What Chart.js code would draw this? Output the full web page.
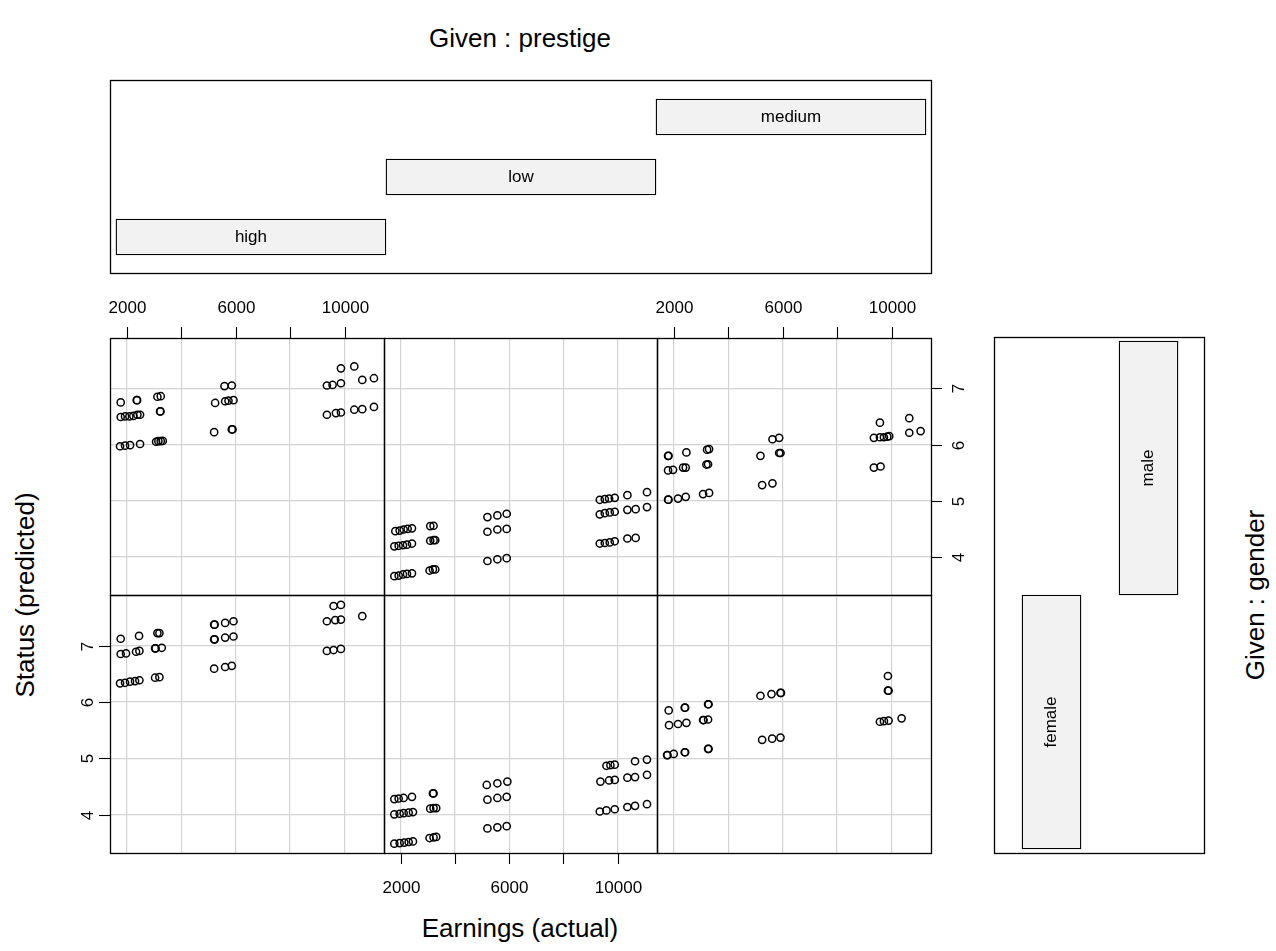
<!DOCTYPE html>
<html>
<head>
<meta charset="utf-8">
<script src="https://cdn.jsdelivr.net/npm/chart.js@4.4.0/dist/chart.umd.min.js"></script>
<style>
  body { margin: 0; background: #fff; }
  #page { position: relative; width: 1276px; height: 951px; overflow: hidden;
          font-family: "Liberation Sans", Arial, Helvetica, sans-serif; }
  #page canvas { position: absolute; }
  .title { position: absolute; font-size: 26px; line-height: 1; color: #000; white-space: nowrap; }
</style>
</head>
<body>
<div id="page">
  <div class="title" style="left:520px; top:38px; transform:translate(-50%,-50%)">Given : prestige</div>
  <div class="title" style="left:520px; top:928px; transform:translate(-50%,-50%)">Earnings (actual)</div>
  <div class="title" style="left:25px; top:595px; transform:translate(-50%,-50%) rotate(-90deg)">Status (predicted)</div>
  <div class="title" style="left:1255px; top:595px; transform:translate(-50%,-50%) rotate(-90deg)">Given : gender</div>
</div>
<script>
// axis ticks
const earningsTicks = [2000, 4000, 6000, 8000, 10000];
const earningsTickLabels = ['2000', '', '6000', '', '10000'];
const statusTicks = [4, 5, 6, 7];

// conditioning levels
const prestigeLevels = ['high', 'low', 'medium'];
const prestigeIntervals = [[0.5, 1.5], [1.5, 2.5], [2.5, 3.5]];
const genderLevels = ['female', 'male'];
const genderIntervals = [[0.5, 1.5], [1.5, 2.5]];

// male, prestige high
const earnMaleHigh = [1779, 2368, 2382, 3127, 3250, 1779, 1939, 2098, 2245, 2392, 2490, 3225, 3240,
  1755, 1939, 2123, 2490, 3078, 3164, 3250, 3324, 5591, 5860, 5248, 5615, 5738, 5922, 5211, 5860, 5885,
  9868, 10358, 9353, 9561, 9868, 10652, 11081, 9353, 9684, 9868, 10358, 10652, 11081];
const statusMaleHigh = [6.75, 6.79, 6.79, 6.85, 6.86, 6.49, 6.50, 6.50, 6.51, 6.53, 6.53, 6.59, 6.59,
  5.97, 5.98, 5.99, 6.01, 6.05, 6.06, 6.06, 6.065, 7.04, 7.05, 6.74, 6.77, 6.78, 6.79, 6.22, 6.27, 6.27,
  7.355, 7.39, 7.05, 7.06, 7.09, 7.15, 7.18, 6.53, 6.56, 6.57, 6.62, 6.63, 6.67];

// male, prestige low
const earnMaleLow = [1804, 1963, 2110, 2257, 2417, 3091, 3213, 1767, 1926, 2086, 2233, 2417, 3091, 3213, 3275,
  1767, 1926, 2086, 2233, 2417, 3066, 3189, 3275, 5199, 5566, 5909, 5199, 5566, 5909, 5199, 5566, 5909,
  9341, 9525, 9684, 9892, 10358, 11081, 9341, 9525, 9708, 9892, 10358, 10664, 11081,
  9341, 9525, 9708, 9892, 10358, 10664];
const statusMaleLow = [4.46, 4.47, 4.49, 4.50, 4.51, 4.55, 4.556, 4.19, 4.20, 4.21, 4.22, 4.24, 4.29, 4.30, 4.30,
  3.66, 3.67, 3.69, 3.70, 3.71, 3.76, 3.78, 3.78, 4.71, 4.74, 4.77, 4.45, 4.49, 4.50, 3.93, 3.96, 3.98,
  5.018, 5.03, 5.041, 5.053, 5.10, 5.154, 4.76, 4.78, 4.793, 4.805, 4.84, 4.852, 4.888,
  4.24, 4.25, 4.26, 4.28, 4.33, 4.34];

// male, prestige medium
const earnMaleMedium = [1792, 1810, 2466, 3225, 3299, 1792, 1975, 2343, 2441, 3201, 3262,
  1792, 1808, 2159, 2441, 3078, 3299, 5627, 5873, 5186, 5873, 5922, 5248, 5627,
  9574, 10652, 9353, 9574, 9721, 9843, 9917, 10652, 11069, 9353, 9598];
const statusMaleMedium = [5.80, 5.80, 5.86, 5.91, 5.92, 5.54, 5.55, 5.59, 5.59, 5.645, 5.65,
  5.02, 5.02, 5.04, 5.07, 5.12, 5.14, 6.095, 6.12, 5.80, 5.85, 5.85, 5.28, 5.31,
  6.39, 6.47, 6.12, 6.13, 6.13, 6.14, 6.15, 6.21, 6.24, 5.59, 5.61];

// female, prestige high
const earnFemaleHigh = [1779, 2453, 3127, 3201, 1779, 1975, 2343, 2466, 3042, 3060, 3287,
  1755, 1939, 2123, 2306, 2466, 3042, 3201, 5211, 5230, 5615, 5922, 5211, 5230, 5615, 5922, 5211, 5615, 5860,
  9598, 9868, 9353, 9659, 9868, 10652, 9353, 9598, 9868];
const statusFemaleHigh = [7.12, 7.17, 7.22, 7.22, 6.85, 6.86, 6.89, 6.905, 6.95, 6.95, 6.96,
  6.33, 6.34, 6.36, 6.37, 6.385, 6.43, 6.44, 7.37, 7.37, 7.40, 7.43, 7.11, 7.11, 7.14, 7.16, 6.59, 6.62, 6.64,
  7.70, 7.72, 7.43, 7.45, 7.46, 7.52, 6.905, 6.92, 6.94];

// female, prestige low
const earnFemaleLow = [1767, 1926, 2110, 2417, 3189, 3213, 1767, 1963, 2110, 2294, 2453, 3091, 3213, 3311,
  1767, 1963, 2135, 2294, 2453, 3066, 3213, 3311, 5174, 5566, 5934, 5199, 5566, 5909, 5199, 5566, 5909,
  9586, 9733, 9892, 10640, 11081, 9365, 9684, 9892, 10358, 10640, 11081, 9341, 9586, 9892, 10358, 10640, 11081];
const statusFemaleLow = [4.28, 4.29, 4.30, 4.32, 4.38, 4.38, 4.01, 4.02, 4.03, 4.04, 4.05, 4.11, 4.12, 4.12,
  3.49, 3.50, 3.51, 3.52, 3.53, 3.59, 3.60, 3.61, 4.53, 4.56, 4.59, 4.27, 4.30, 4.32, 3.76, 3.78, 3.80,
  4.87, 4.88, 4.89, 4.95, 4.98, 4.59, 4.61, 4.62, 4.66, 4.67, 4.71, 4.06, 4.08, 4.10, 4.14, 4.16, 4.19];

// female, prestige medium
const earnFemaleMedium = [1816, 2404, 2420, 3262, 3280, 1828, 2159, 2466, 3078, 3095, 3262,
  1755, 1770, 2000, 2404, 2420, 3262, 3280, 5186, 5591, 5922, 5940, 5248, 5615, 5922,
  9868, 9868, 9890, 9574, 9721, 9892, 10370];
const statusFemaleMedium = [5.85, 5.90, 5.90, 5.96, 5.96, 5.59, 5.61, 5.63, 5.68, 5.68, 5.69,
  5.06, 5.06, 5.08, 5.11, 5.11, 5.17, 5.17, 6.11, 6.14, 6.16, 6.16, 5.33, 5.35, 5.37,
  6.46, 6.20, 6.20, 5.65, 5.66, 5.67, 5.71];

// panel grid on the page
const colEdges = [110, 384, 657, 931];
const rowEdges = [338, 595, 853];
const earnMin = 1386, earnMax = 11450;
const statusMin = 3.325, statusMax = 7.895;
const M = 50; // room around each panel for ticks
const tickFont = '17px "Liberation Sans", Arial, Helvetica, sans-serif';
const page = document.getElementById('page');

function addCanvas(left, top, w, h) {
  const c = document.createElement('canvas');
  c.width = w + 2 * M;
  c.height = h + 2 * M;
  c.style.left = (left - M) + 'px';
  c.style.top = (top - M) + 'px';
  page.appendChild(c);
  return c;
}

// frame + R style axis ticks drawn from the chart scales
const panelFrame = {
  id: 'panelFrame',
  afterDraw(chart, args, opts) {
    const { ctx, chartArea: a } = chart;
    const xs = chart.scales.x, ys = chart.scales.y;
    ctx.save();
    ctx.strokeStyle = '#000';
    ctx.fillStyle = '#000';
    ctx.lineWidth = 1.3;
    ctx.strokeRect(a.left + 0.5, a.top + 0.5, a.right - a.left, a.bottom - a.top);
    ctx.lineWidth = 1.1;
    ctx.font = tickFont;
    if (opts.xSide) {
      const top = opts.xSide === 'top';
      const edge = top ? a.top : a.bottom;
      const dir = top ? -1 : 1;
      ctx.textAlign = 'center';
      ctx.textBaseline = 'alphabetic';
      earningsTicks.forEach((v, i) => {
        const px = Math.round(xs.getPixelForValue(v)) + 0.5;
        ctx.beginPath();
        ctx.moveTo(px, edge);
        ctx.lineTo(px, edge + dir * 11);
        ctx.stroke();
        if (earningsTickLabels[i]) ctx.fillText(earningsTickLabels[i], px, top ? edge - 25 : edge + 40);
      });
    }
    if (opts.ySide) {
      const left = opts.ySide === 'left';
      const edge = left ? a.left : a.right;
      const dir = left ? -1 : 1;
      statusTicks.forEach(v => {
        const py = Math.round(ys.getPixelForValue(v)) + 0.5;
        ctx.beginPath();
        ctx.moveTo(edge, py);
        ctx.lineTo(edge + dir * 11, py);
        ctx.stroke();
        ctx.save();
        ctx.translate(edge + dir * (left ? 23 : 27) + 6, py);
        ctx.rotate(-Math.PI / 2);
        ctx.textAlign = 'center';
        ctx.textBaseline = 'alphabetic';
        ctx.fillText(String(v), 0, 0);
        ctx.restore();
      });
    }
    ctx.restore();
  }
};

// level names inside the given bars
const barText = {
  id: 'barText',
  afterDatasetsDraw(chart, args, opts) {
    const { ctx } = chart;
    chart.getDatasetMeta(0).data.forEach((bar, i) => {
      const c = bar.getCenterPoint();
      ctx.save();
      ctx.translate(c.x, c.y);
      if (opts.vertical) ctx.rotate(-Math.PI / 2);
      ctx.font = tickFont;
      ctx.fillStyle = '#000';
      ctx.textAlign = 'center';
      ctx.textBaseline = 'middle';
      ctx.fillText(opts.names[i], 0, 0);
      ctx.restore();
    });
  }
};

function gridScale(min, max, ticks, horizontal) {
  return {
    type: 'linear', min, max,
    grid: { color: '#d3d3d3', lineWidth: 1.2, drawTicks: false },
    border: { display: false },
    ticks: { display: false },
    afterBuildTicks: s => { s.ticks = ticks.map(v => ({ value: v })); },
    afterFit: s => { if (horizontal) s.height = 0; else s.width = 0; }
  };
}

function panel(col, row, earn, status, axes) {
  const left = colEdges[col], top = rowEdges[row];
  const w = colEdges[col + 1] - left, h = rowEdges[row + 1] - top;
  new Chart(addCanvas(left, top, w, h), {
    type: 'scatter',
    data: {
      datasets: [{
        data: earn.map((e, i) => ({ x: e, y: status[i] })),
        pointRadius: 3.6,
        pointBorderWidth: 1.5,
        pointBorderColor: '#000',
        pointBackgroundColor: 'rgba(0,0,0,0)'
      }]
    },
    options: {
      responsive: false, animation: false, devicePixelRatio: 1, events: [],
      layout: { padding: M },
      scales: {
        x: gridScale(earnMin, earnMax, earningsTicks, true),
        y: gridScale(statusMin, statusMax, statusTicks, false)
      },
      plugins: { legend: { display: false }, tooltip: { enabled: false }, panelFrame: axes }
    },
    plugins: [panelFrame]
  });
}

// top row male, bottom row female; columns high, low, medium
panel(0, 0, earnMaleHigh, statusMaleHigh, { xSide: 'top' });
panel(1, 0, earnMaleLow, statusMaleLow, {});
panel(2, 0, earnMaleMedium, statusMaleMedium, { xSide: 'top', ySide: 'right' });
panel(0, 1, earnFemaleHigh, statusFemaleHigh, { ySide: 'left' });
panel(1, 1, earnFemaleLow, statusFemaleLow, { xSide: 'bottom' });
panel(2, 1, earnFemaleMedium, statusFemaleMedium, {});

// given panel: prestige
new Chart(addCanvas(110, 80, 821, 193), {
  type: 'bar',
  data: {
    datasets: [{
      data: prestigeIntervals.map((iv, i) => ({ x: iv, y: i + 1 })),
      backgroundColor: '#f2f2f2', borderColor: '#000', borderWidth: 1.3,
      borderSkipped: false, barThickness: 36
    }]
  },
  options: {
    indexAxis: 'y',
    responsive: false, animation: false, devicePixelRatio: 1, events: [],
    layout: { padding: M },
    scales: {
      x: { type: 'linear', min: 0.478, max: 3.5185, display: false, offset: false },
      y: { type: 'linear', min: 0.4, max: 3.617, display: false, offset: false }
    },
    plugins: { legend: { display: false }, tooltip: { enabled: false },
      panelFrame: {}, barText: { names: prestigeLevels, vertical: false } }
  },
  plugins: [panelFrame, barText]
});

// given panel: gender
new Chart(addCanvas(994, 337, 210, 516), {
  type: 'bar',
  data: {
    datasets: [{
      data: genderIntervals.map((iv, i) => ({ x: i + 1, y: iv })),
      backgroundColor: '#f2f2f2', borderColor: '#000', borderWidth: 1.3,
      borderSkipped: false, barThickness: 59
    }]
  },
  options: {
    responsive: false, animation: false, devicePixelRatio: 1, events: [],
    layout: { padding: M },
    scales: {
      x: { type: 'linear', min: 0.407, max: 2.572, display: false, offset: false },
      y: { type: 'linear', min: 0.4843, max: 2.5157, display: false, offset: false }
    },
    plugins: { legend: { display: false }, tooltip: { enabled: false },
      panelFrame: {}, barText: { names: genderLevels, vertical: true } }
  },
  plugins: [panelFrame, barText]
});
</script>
</body>
</html>
